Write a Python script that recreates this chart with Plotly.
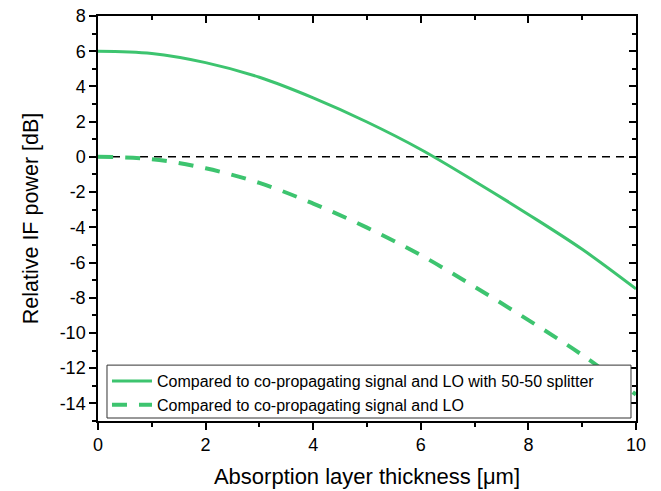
import plotly.graph_objects as go

thickness = [0, 1, 2, 3, 4, 5, 6, 7, 8, 9, 10]
splitter_db = [6.00, 5.87, 5.35, 4.52, 3.35, 1.98, 0.42, -1.38, -3.27, -5.25, -7.50]
coprop_db = [0.00, -0.13, -0.65, -1.48, -2.65, -4.02, -5.58, -7.38, -9.27, -11.25, -13.50]
ref_x = [0, 10]
ref_y = [0, 0]

x_ticks = [0, 2, 4, 6, 8, 10]
y_ticks = [8, 6, 4, 2, 0, -2, -4, -6, -8, -10, -12, -14]
y_labels = [str(v) for v in y_ticks]

green = "#3DC46F"
font = "Liberation Sans, Arial, sans-serif"

fig = go.Figure()
fig.add_trace(go.Scatter(x=ref_x, y=ref_y, mode="lines", showlegend=False,
                         line=dict(color="black", width=1.5, dash="8px,6px")))
fig.add_trace(go.Scatter(x=thickness, y=splitter_db, mode="lines",
                         name="Compared to co-propagating signal and LO with 50-50 splitter",
                         line=dict(color=green, width=3, shape="spline")))
fig.add_trace(go.Scatter(x=thickness, y=coprop_db, mode="lines",
                         name="Compared to co-propagating signal and LO",
                         line=dict(color=green, width=4, dash="15px,12px", shape="spline")))

axis_common = dict(showline=True, linecolor="black", linewidth=1.5, showgrid=False,
                   zeroline=False, ticklen=7, tickwidth=1.5, tickcolor="black",
                   automargin=False)

fig.update_layout(
    width=661, height=491,
    margin=dict(l=98, r=25, t=16, b=70),
    plot_bgcolor="white", paper_bgcolor="white",
    font=dict(family=font, color="black"),
    xaxis=dict(range=[0, 10], tickvals=x_ticks, ticks="outside",
               tickfont=dict(size=18),
               title=dict(text="Absorption layer thickness [μm]", font=dict(size=22), standoff=14),
               minor=dict(dtick=1, ticks="outside", ticklen=4, tickwidth=1.5, tickcolor="black"),
               **axis_common),
    yaxis=dict(range=[-15, 8], tickvals=y_ticks, ticktext=y_labels, ticks="outside",
               tickfont=dict(size=18),
               title=dict(text="Relative IF power [dB]", font=dict(size=21.5), standoff=15),
               minor=dict(dtick=1, ticks="outside", ticklen=4, tickwidth=1.5, tickcolor="black"),
               **axis_common),
    xaxis2=dict(range=[0, 10], overlaying="x", side="top", tickvals=x_ticks, ticks="inside",
                showticklabels=False,
                minor=dict(dtick=1, ticks="inside", ticklen=4, tickwidth=1.5, tickcolor="black"),
                **axis_common),
    yaxis2=dict(range=[-15, 8], overlaying="y", side="right", tickvals=y_ticks, ticks="inside",
                showticklabels=False,
                minor=dict(dtick=1, ticks="inside", ticklen=4, tickwidth=1.5, tickcolor="black"),
                **axis_common),
    legend=dict(x=0.0167, y=-0.0025, xanchor="left", yanchor="bottom",
                bgcolor="rgba(0,0,0,0)", borderwidth=0,
                itemwidth=40,
                font=dict(size=16, family=font), tracegroupgap=0),
    shapes=[dict(type="rect", xref="paper", yref="paper",
                 x0=0.0167, x1=0.9907, y0=0.0074, y1=0.138,
                 fillcolor="white", line=dict(color="#333333", width=1), layer="above")],
)
fig.add_trace(go.Scatter(x=[None], y=[None], xaxis="x2", yaxis="y2", showlegend=False,
                         hoverinfo="skip"))

fig.write_html("out.html", config={"displayModeBar": False},
               post_script="document.body.style.margin='0';")
